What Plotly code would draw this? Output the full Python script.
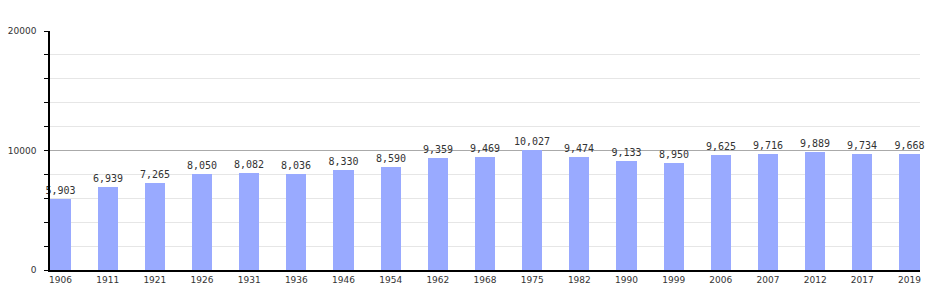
import plotly.graph_objects as go

years = ["1906", "1911", "1921", "1926", "1931", "1936", "1946", "1954", "1962", "1968",
         "1975", "1982", "1990", "1999", "2006", "2007", "2012", "2017", "2019"]
population = [5903, 6939, 7265, 8050, 8082, 8036, 8330, 8590, 9359, 9469,
              10027, 9474, 9133, 8950, 9625, 9716, 9889, 9734, 9668]
y_ticks = [0, 10000, 20000]

xs = list(range(len(years)))

fig = go.Figure()
fig.add_trace(go.Bar(
    x=xs, y=population, width=0.43,
    marker=dict(color="#99aaff", line=dict(width=0)),
    text=population, texttemplate="%{y:,}", textposition="outside",
    constraintext="none",
    textfont=dict(family="DejaVu Sans Mono", size=10, color="#333333"),
    cliponaxis=False,
))

fig.update_layout(
    width=950, height=300,
    margin=dict(l=50, r=30, t=31, b=30, autoexpand=False),
    plot_bgcolor="white", paper_bgcolor="white",
    showlegend=False,
    bargap=0,
    uniformtext=dict(minsize=10, mode="show"),
    xaxis=dict(
        range=[-0.223, 18.223], automargin=False,
        tickmode="array", tickvals=xs, ticktext=years,
        showgrid=False, zeroline=False,
        showline=True, linecolor="black", linewidth=1.5,
        ticks="", tickfont=dict(family="DejaVu Sans", size=9, color="#333333"),
    ),
    yaxis=dict(
        range=[0, 20000], automargin=False,
        tickmode="array", tickvals=y_ticks, ticktext=[str(v) for v in y_ticks],
        showgrid=True, gridcolor="#aaaaaa", gridwidth=1,
        zeroline=False,
        showline=True, linecolor="black", linewidth=1.5,
        ticks="outside", ticklen=4, tickcolor="black",
        tickfont=dict(family="DejaVu Sans", size=9, color="#333333"),
        ticklabelstandoff=6,
        minor=dict(dtick=2000, tick0=0, showgrid=True, gridcolor="#e6e6e6",
                   ticks="outside", ticklen=4, tickcolor="black"),
    ),
)

fig.write_html("out.html")
